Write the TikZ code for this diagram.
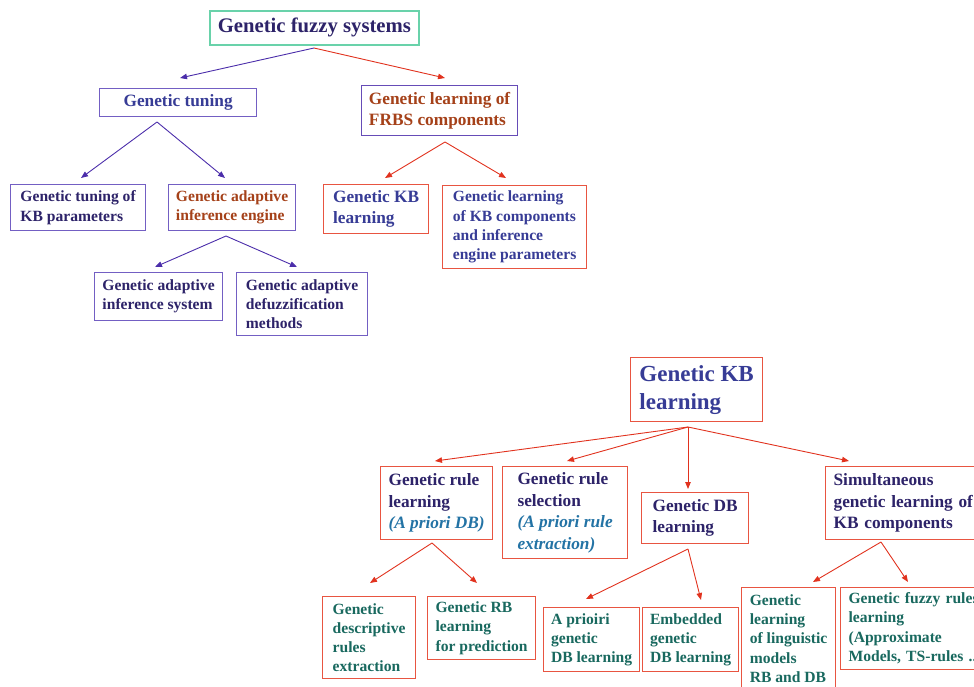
\documentclass[tikz,border=0pt]{standalone}
\usepackage{fontspec}
\setmainfont{Liberation Serif}
\usetikzlibrary{arrows.meta}
\definecolor{navy}{RGB}{45,35,105}
\definecolor{bluetxt}{RGB}{55,60,150}
\definecolor{browntxt}{RGB}{165,65,25}
\definecolor{tealtxt}{RGB}{25,105,95}
\definecolor{itblue}{RGB}{35,115,165}
\definecolor{purpleline}{RGB}{115,95,195}
\definecolor{bluearrow}{RGB}{75,45,170}
\definecolor{redarrow}{RGB}{225,50,30}
\definecolor{redline}{RGB}{232,85,65}
\definecolor{greenline}{RGB}{105,210,170}
\tikzset{
  box/.style={draw, fill=white, anchor=north west, inner sep=0pt, align=left, line width=1.2pt},
  pbox/.style={box, draw=purpleline},
  rbox/.style={box, draw=redline},
  szA/.style={font=\fontsize{20.7}{25}\selectfont\bfseries},
  szB/.style={font=\fontsize{17.3}{21.5}\selectfont\bfseries},
  szC/.style={font=\fontsize{15.6}{19.2}\selectfont\bfseries},
  szD/.style={font=\fontsize{23}{28}\selectfont\bfseries},
  barr/.style={draw=bluearrow, line width=0.9pt, -{Triangle[length=7pt,width=5.5pt]}},
  rarr/.style={draw=redarrow, line width=0.9pt, -{Triangle[length=7pt,width=5.5pt]}},
}
\begin{document}
\begin{tikzpicture}[x=1pt,y=-1pt]
\useasboundingbox (0,0) rectangle (974,686);
\clip (0,0) rectangle (974,686);
% ---------- top tree ----------
\node[box, draw=greenline, line width=1.8pt, minimum width=209pt, minimum height=34pt, szA, text=navy, align=center] (gfs) at (209,10) {Genetic fuzzy systems};
\node[pbox, minimum width=157pt, minimum height=28pt, szB, text=bluetxt, align=center] (tun) at (99,88) {Genetic tuning};
\node[box, draw=bluearrow!85, minimum width=156pt, minimum height=50pt, szB, text=browntxt] (frbs) at (361,85) {Genetic learning of\\FRBS components};
\node[pbox, minimum width=135pt, minimum height=46pt, szC, text=navy] (kbp) at (10,184) {Genetic tuning of\\KB parameters};
\node[pbox, minimum width=127pt, minimum height=46pt, szC, text=browntxt] (aie) at (168,184) {Genetic adaptive\\inference engine};
\node[rbox, minimum width=105pt, minimum height=49pt, szB, text=bluetxt] (kbs) at (323,184) {Genetic KB\\learning};
\node[rbox, minimum width=144pt, minimum height=83pt, szC, text=bluetxt] (lkb) at (442,185) {Genetic learning\\of KB components\\and inference\\engine parameters};
\node[pbox, minimum width=128pt, minimum height=48pt, szC, text=navy] (ais) at (94,272) {Genetic adaptive\\inference system};
\node[pbox, minimum width=131pt, minimum height=63pt, szC, text=navy] (def) at (236,272) {Genetic adaptive\\defuzzification\\methods};
% top connectors
\coordinate (gfsA) at (314,48);
\coordinate (gfsL) at (180,78);
\coordinate (gfsR) at (445,78);
\coordinate (tunA) at (157,122);
\coordinate (tunL) at (81,178);
\coordinate (tunR) at (225,178);
\coordinate (frbsA) at (445,142);
\coordinate (frbsL) at (385,178);
\coordinate (frbsR) at (506,178);
\coordinate (aieA) at (226,236);
\coordinate (aieL) at (155,267);
\coordinate (aieR) at (297,267);
\draw[barr] (gfsA) -- (gfsL);
\draw[rarr] (gfsA) -- (gfsR);
\draw[barr] (tunA) -- (tunL);
\draw[barr] (tunA) -- (tunR);
\draw[rarr] (frbsA) -- (frbsL);
\draw[rarr] (frbsA) -- (frbsR);
\draw[barr] (aieA) -- (aieL);
\draw[barr] (aieA) -- (aieR);
% ---------- bottom tree ----------
\node[rbox, minimum width=132pt, minimum height=64pt, szD, text=bluetxt] (kbl) at (630,357) {Genetic KB\\learning};
\node[rbox, minimum width=112pt, minimum height=73pt, szB, text=navy] (rl) at (380,466) {Genetic rule\\learning\\{\itshape\color{itblue}(A priori DB)}};
\node[rbox, minimum width=125pt, minimum height=92pt, szB, text=navy] (rs) at (502,466) {Genetic rule\\selection\\{\itshape\color{itblue}(A priori rule}\\{\itshape\color{itblue}extraction)}};
\node[rbox, minimum width=107pt, minimum height=51pt, szB, text=navy] (db) at (641,492) {Genetic DB\\learning};
\node[rbox, inner xsep=8pt, text width=200pt, minimum height=73pt, szB, text=navy] (sim) at (825,466) {Simultaneous\\genetic learning of\\KB components};
\node[rbox, minimum width=93pt, minimum height=82pt, szC, text=tealtxt] (dre) at (322,596) {Genetic\\descriptive\\rules\\extraction};
\node[rbox, minimum width=108pt, minimum height=63pt, szC, text=tealtxt] (rbp) at (427,596) {Genetic RB\\learning\\for prediction};
\node[rbox, minimum width=96pt, minimum height=64pt, szC, text=tealtxt] (apr) at (543,607) {A prioiri\\genetic\\DB learning};
\node[rbox, minimum width=96pt, minimum height=64pt, szC, text=tealtxt] (emb) at (642,607) {Embedded\\genetic\\DB learning};
\node[rbox, minimum width=94pt, minimum height=102pt, szC, text=tealtxt] (lin) at (741,587) {Genetic\\learning\\of linguistic\\models\\RB and DB};
\node[rbox, inner xsep=8pt, text width=200pt, minimum height=82pt, szC, text=tealtxt] (gfr) at (840,587) {Genetic fuzzy rules\\learning\\(Approximate\\Models, TS-rules ..)};
% bottom connectors
\coordinate (kblA) at (688,427);
\coordinate (kbl1) at (435,461);
\coordinate (kbl2) at (567,461);
\coordinate (kbl3) at (688,489);
\coordinate (kbl4) at (849,461);
\coordinate (rlA) at (432,543);
\coordinate (rlL) at (370,583);
\coordinate (rlR) at (477,583);
\coordinate (dbA) at (688,549);
\coordinate (dbL) at (586,599);
\coordinate (dbR) at (701,600);
\coordinate (simA) at (881,542);
\coordinate (simL) at (813,582);
\coordinate (simR) at (908,582);
\draw[rarr] (kblA) -- (kbl1);
\draw[rarr] (kblA) -- (kbl2);
\draw[rarr] (kblA) -- (kbl3);
\draw[rarr] (kblA) -- (kbl4);
\draw[rarr] (rlA) -- (rlL);
\draw[rarr] (rlA) -- (rlR);
\draw[rarr] (dbA) -- (dbL);
\draw[rarr] (dbA) -- (dbR);
\draw[rarr] (simA) -- (simL);
\draw[rarr] (simA) -- (simR);
\end{tikzpicture}
\end{document}
